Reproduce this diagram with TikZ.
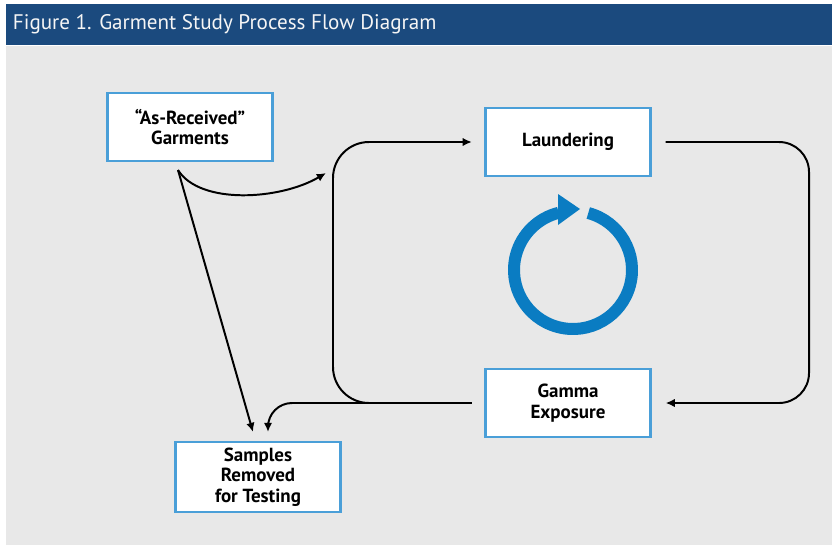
\documentclass[tikz,border=0pt]{standalone}
\usepackage{fontspec}
\setmainfont{PT Sans}
\usepackage{tikz}
\usetikzlibrary{arrows.meta}

\definecolor{bandblue}{HTML}{1B4A7E}
\definecolor{boxblue}{HTML}{4A9FD8}
\definecolor{loopblue}{HTML}{0A7CC2}
\definecolor{panelgray}{HTML}{E8E8E8}

\tikzset{
  stagebox/.style={draw=boxblue, line width=1.5pt, fill=white,
    minimum width=165*0.025cm, minimum height=68*0.025cm,
    align=center, font=\fontsize{13.5}{14.5}\selectfont\bfseries},
  flow/.style={line width=1.4pt, -{Latex[length=6.5pt,width=6pt]}}
}

\begin{document}
\begin{tikzpicture}[x=0.025cm, y=0.025cm]
            % Frame
            \useasboundingbox (0,0) rectangle (832,-547);
            \fill[panelgray] (6,-46) rectangle (832,-545);
            \fill[bandblue] (6,-4) rectangle (832,-45);
            \node[anchor=west, text=white!92!gray, font=\fontsize{15}{16}\selectfont] (title) at (8,-24) {Figure 1. Garment Study Process Flow Diagram};

            % Stages
            \node[stagebox] (asrec) at (190,-127) {``As-Received''\\Garments};
            \node[stagebox] (laund) at (568,-142) {Laundering};
            \node[stagebox] (gamma) at (568,-403) {Gamma\\Exposure};
            \node[stagebox, minimum height=70*0.025cm] (samples) at (258,-477) {Samples\\Removed\\for Testing};

            % Helper points
            \coordinate (fork) at ([shift={(-12,-8)}]asrec.south);
            \coordinate (loopL) at (333,-142);
            \coordinate (loopR) at (809,-142);

            % Cycle
            \draw[flow, rounded corners=0.75cm] ([xshift=10]laund.east) -- (loopR) |- ([xshift=10]gamma.east);
            \draw[flow, rounded corners=0.9cm] ([xshift=-9]gamma.west) -| (loopL) -- ([xshift=-9]laund.west);
            \draw[flow, rounded corners=0.6cm] ([xshift=-9]gamma.west) -| ([shift={(10,9)}]samples.north);

            % From as-received
            \draw[flow] (fork) .. controls (200,-205) and (280,-200) .. (326,-173);
            \draw[flow] (fork) -- ([shift={(-5,9)}]samples.north);

            % Cycle icon
            \coordinate (ring) at (573,-270);
            \draw[loopblue, line width=12*0.025cm] ([shift={(75:59)}]ring) arc[start angle=75, end angle=-256, radius=59];
            \fill[loopblue] (558,-194) -- (580,-209) -- (558,-225) -- cycle;
\end{tikzpicture}
\end{document}
